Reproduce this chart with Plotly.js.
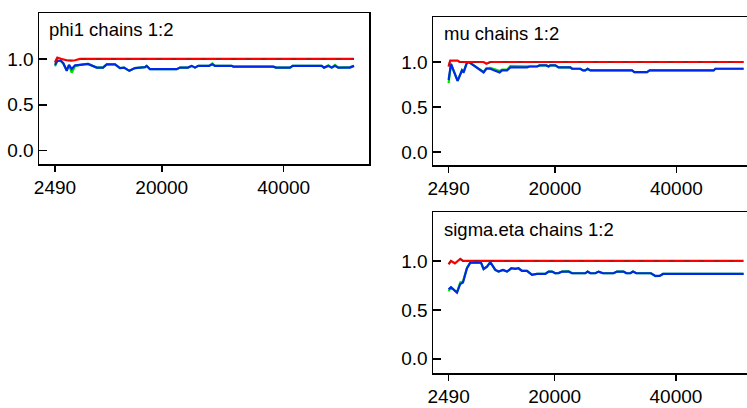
<!DOCTYPE html>
<html><head><meta charset="utf-8">
<script src="https://cdn.plot.ly/plotly-3.0.1.min.js"></script>
<style>html,body{margin:0;padding:0;overflow:hidden;background:#fff;}#chart{width:765px;height:408px;}</style>
</head><body><div id="chart"></div>
<script>
// ---------- data ----------
const xTickVals = [2490, 20000, 40000];
const xTickText = ["2490", "20000", "40000"];
const yTickVals = [0, 0.5, 1.0];
const yTickText = ["0.0", "0.5", "1.0"];
const panelTitles = ["phi1 chains 1:2", "mu chains 1:2", "sigma.eta chains 1:2"];

// phi1
const phi1Iter = [2490, 2870, 3470, 3850, 4410, 4790, 5230, 5770, 6590, 7900, 9330, 10360, 10970, 12330, 13150, 13810, 14680, 15610, 17250, 17530, 18070, 22450, 22990, 24300, 24910, 25450, 25990, 27750, 28290, 28730, 31470, 31730, 38290, 38730, 41030, 41470, 46230, 46610, 47310, 47870, 48410, 48950, 50870, 51530];
const phi1Blue = [0.935, 0.98, 0.98, 0.953, 0.87, 0.935, 0.89, 0.93, 0.935, 0.945, 0.905, 0.905, 0.94, 0.94, 0.90, 0.905, 0.87, 0.90, 0.91, 0.924, 0.888, 0.888, 0.905, 0.905, 0.924, 0.905, 0.924, 0.924, 0.942, 0.924, 0.924, 0.916, 0.916, 0.905, 0.905, 0.924, 0.924, 0.905, 0.924, 0.905, 0.924, 0.905, 0.905, 0.924];
const phi1Green = [0.92, 0.98, 0.975, 0.95, 0.88, 0.93, 0.85, 0.92, 0.935, 0.945, 0.905, 0.905, 0.94, 0.94, 0.90, 0.905, 0.87, 0.90, 0.91, 0.924, 0.888, 0.888, 0.905, 0.905, 0.924, 0.905, 0.924, 0.924, 0.95, 0.924, 0.924, 0.916, 0.916, 0.905, 0.905, 0.924, 0.924, 0.905, 0.93, 0.905, 0.935, 0.905, 0.91, 0.924];
const phi1RedIter = [2490, 2870, 3470, 4410, 5230, 5770, 6590, 51530];
const phi1Red = [0.96, 1.015, 1.0, 0.985, 0.982, 0.985, 1.0, 1.0];

// mu
const muIter = [2490, 2885, 3972, 4697, 4961, 5520, 5900, 8255, 8700, 9358, 10461, 10890, 11285, 12108, 12652, 15402, 15830, 17049, 17478, 18581, 18960, 19240, 20063, 20607, 22534, 22814, 24181, 24626, 24995, 25383, 25828, 32696, 33074, 35166, 35594, 46135, 46415, 51076];
const muBlue = [0.80, 0.98, 0.79, 0.906, 0.884, 0.995, 0.995, 0.884, 0.925, 0.925, 0.895, 0.884, 0.906, 0.906, 0.94, 0.94, 0.95, 0.95, 0.962, 0.962, 0.95, 0.962, 0.962, 0.94, 0.94, 0.925, 0.925, 0.906, 0.906, 0.925, 0.906, 0.906, 0.888, 0.888, 0.906, 0.906, 0.925, 0.925];
const muGreen = [0.765, 0.975, 0.79, 0.91, 0.89, 0.995, 0.995, 0.89, 0.93, 0.935, 0.91, 0.90, 0.915, 0.915, 0.955, 0.955, 0.955, 0.95, 0.962, 0.962, 0.95, 0.962, 0.962, 0.94, 0.94, 0.925, 0.925, 0.906, 0.906, 0.925, 0.906, 0.906, 0.888, 0.888, 0.906, 0.906, 0.925, 0.925];
const muRedIter = [2490, 2750, 3970, 4300, 8255, 8700, 9360, 51076];
const muRed = [0.95, 1.015, 1.015, 1.0, 1.0, 0.98, 1.0, 1.0];

// sigma.eta
const sigIter = [2490, 2886, 3876, 4421, 4866, 5526, 6071, 7836, 8265, 8826, 9371, 10196, 10740, 11466, 12126, 12836, 13496, 14040, 14601, 15426, 16251, 17076, 18446, 18990, 19551, 20096, 20640, 21201, 22290, 22851, 25046, 25425, 25871, 26696, 27240, 27966, 29715, 30276, 31365, 31811, 32471, 32916, 33461, 35886, 36596, 37305, 37866, 51165];
const sigBlue = [0.711, 0.732, 0.677, 0.765, 0.779, 0.925, 0.983, 0.983, 0.918, 0.942, 0.987, 0.908, 0.891, 0.908, 0.891, 0.925, 0.918, 0.925, 0.898, 0.898, 0.857, 0.867, 0.867, 0.891, 0.891, 0.874, 0.874, 0.891, 0.891, 0.874, 0.874, 0.891, 0.874, 0.874, 0.891, 0.874, 0.874, 0.891, 0.891, 0.874, 0.874, 0.891, 0.874, 0.874, 0.847, 0.847, 0.867, 0.867];
const sigGreen = [0.69, 0.73, 0.68, 0.78, 0.79, 0.93, 0.983, 0.983, 0.918, 0.942, 0.987, 0.908, 0.891, 0.908, 0.891, 0.925, 0.925, 0.925, 0.898, 0.898, 0.86, 0.867, 0.867, 0.891, 0.891, 0.874, 0.878, 0.891, 0.895, 0.874, 0.874, 0.891, 0.874, 0.874, 0.891, 0.874, 0.874, 0.891, 0.891, 0.874, 0.874, 0.891, 0.874, 0.874, 0.845, 0.847, 0.867, 0.867];
const sigRedIter = [2490, 2886, 3540, 4421, 4866, 51165];
const sigRed = [0.966, 1.0, 0.976, 1.02, 1.0, 1.0];

// ---------- drawing ----------
const W = 765, H = 408;
const FONT = "'Liberation Sans', Arial, sans-serif";
const panels = [
  {iter: phi1Iter, blue: phi1Blue, green: phi1Green, rIter: phi1RedIter, red: phi1Red, ax: "", px: [39, 369], py: [13, 164], xr: [-134, 53986], title: panelTitles[0], tx: 47, ty: 30},
  {iter: muIter, blue: muBlue, green: muGreen, rIter: muRedIter, red: muRed, ax: "2", px: [433, 762], py: [17, 165], xr: [-79, 54100], title: panelTitles[1], tx: 442, ty: 33},
  {iter: sigIter, blue: sigBlue, green: sigGreen, rIter: sigRedIter, red: sigRed, ax: "3", px: [433, 762], py: [212, 373], xr: [-80, 54200], title: panelTitles[2], tx: 442, ty: 229}
];

const traces = [];
const layout = {
  width: W, height: H, margin: {l: 0, r: 0, t: 0, b: 0},
  paper_bgcolor: "#fff", plot_bgcolor: "#fff", showlegend: false,
  font: {family: FONT, color: "#000", size: 19},
  annotations: []
};

panels.forEach(p => {
  const xa = "x" + p.ax, ya = "y" + p.ax;
  traces.push({x: p.iter, y: p.green, xaxis: xa, yaxis: ya, mode: "lines", line: {color: "#00e000", width: 2.2}, hoverinfo: "skip"});
  traces.push({x: p.iter, y: p.blue, xaxis: xa, yaxis: ya, mode: "lines", line: {color: "#0028e8", width: 2.2}, hoverinfo: "skip"});
  traces.push({x: p.rIter, y: p.red, xaxis: xa, yaxis: ya, mode: "lines", line: {color: "#ff0000", width: 2.2}, hoverinfo: "skip"});
  traces.push({x: p.rIter, y: p.red, xaxis: xa, yaxis: ya, mode: "lines", line: {color: "rgba(120,30,30,0.45)", width: 2, dash: "5px,10px"}, hoverinfo: "skip"});

  layout["xaxis" + p.ax] = {
    domain: [p.px[0] / W, p.px[1] / W], anchor: ya, range: p.xr,
    tickvals: xTickVals, ticktext: xTickText, ticks: "outside", ticklen: 6, tickwidth: 1.5, tickcolor: "#000",
    showline: true, mirror: true, linecolor: "#000", linewidth: 1.5,
    showgrid: false, zeroline: false, tickfont: {size: 19, family: FONT, color: "#000"}
  };
  layout["yaxis" + p.ax] = {
    domain: [1 - p.py[1] / H, 1 - p.py[0] / H], anchor: xa, range: [-0.145, 1.5],
    tickvals: yTickVals, ticktext: yTickText, ticks: "inside", ticklen: 8, tickwidth: 1.5, tickcolor: "#000",
    showline: true, mirror: true, linecolor: "#000", linewidth: 1.5,
    showgrid: false, zeroline: false, tickfont: {size: 19, family: FONT, color: "#000"}
  };
  layout.annotations.push({
    text: p.title, xref: "paper", yref: "paper", x: p.tx / W, y: 1 - p.ty / H,
    xanchor: "left", yanchor: "middle", showarrow: false,
    font: {size: 18.5, family: FONT, color: "#000"}
  });
});

Plotly.newPlot("chart", traces, layout, {staticPlot: true, displayModeBar: false});
</script>
</body></html>
